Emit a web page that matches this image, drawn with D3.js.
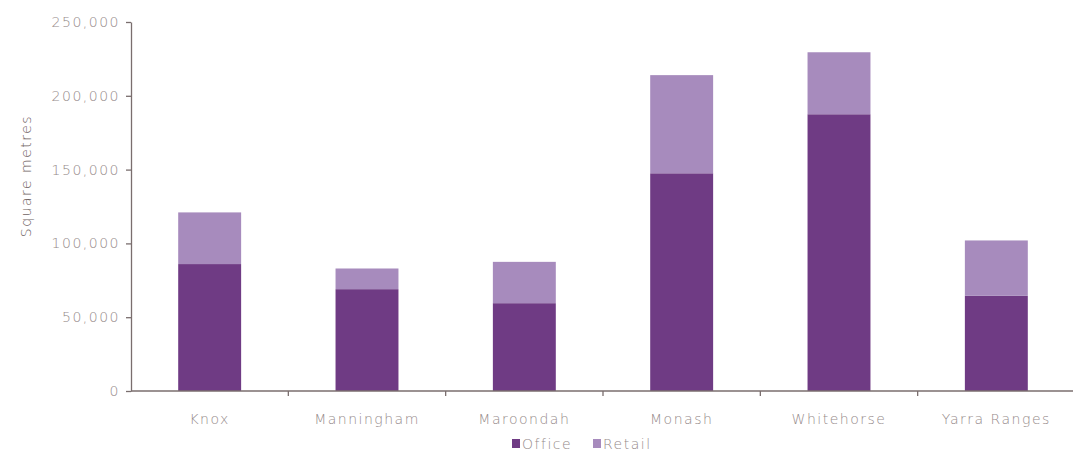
<!DOCTYPE html>
<html>
<head>
<meta charset="utf-8">
<script src="https://cdn.jsdelivr.net/npm/d3@7"></script>
<style>
  html, body { margin: 0; padding: 0; background: #fff; }
  svg { display: block; }
  text { font-family: "DejaVu Sans", sans-serif; font-weight: 200; letter-spacing: 1.5px; }
</style>
</head>
<body>
<svg id="chart" width="1073" height="452"></svg>
<script>
// Floor space by municipality, square metres
const categories = ["Knox", "Manningham", "Maroondah", "Monash", "Whitehorse", "Yarra Ranges"];
const office = [86000, 69000, 59500, 147500, 187500, 64500];
const retail = [35000, 14000, 28000, 66500, 42000, 37500];
const seriesNames = ["Office", "Retail"];
const yTicks = [0, 50000, 100000, 150000, 200000, 250000];

const colors = { Office: "#6f3b84", Retail: "#a78bbd" };

const svg = d3.select("#chart");
const margin = { top: 22, right: 0, bottom: 61, left: 131 };
const width = 1075 - margin.left;
const height = 452 - margin.top - margin.bottom;

const g = svg.append("g").attr("transform", `translate(${margin.left},${margin.top})`);

const x = d3.scaleBand().domain(categories).range([0, width]).paddingInner(0.6).paddingOuter(0.3);
const xTicksScale = d3.scaleBand().domain(categories).range([0, width]);
const y = d3.scaleLinear().domain([0, 250000]).range([height, 0]);

const rows = categories.map((c, i) => ({ category: c, Office: office[i], Retail: retail[i] }));
const stacked = d3.stack().keys(seriesNames)(rows);

g.selectAll("g.series")
  .data(stacked)
  .join("g")
  .attr("class", "series")
  .attr("fill", d => colors[d.key])
  .selectAll("rect")
  .data(d => d)
  .join("rect")
  .attr("x", d => x(d.data.category))
  .attr("width", x.bandwidth())
  .attr("y", d => y(d[1]))
  .attr("height", d => y(d[0]) - y(d[1]));

const axisColor = "#7a6e6e";
const textColor = "#958a8a";
const fontSize = 14;

// Y axis
const yAxis = g.append("g")
  .call(d3.axisLeft(y).tickValues(yTicks).tickFormat(d3.format(",")).tickSize(5).tickSizeOuter(0));
yAxis.select(".domain").attr("stroke", axisColor).attr("stroke-width", 1.3);
yAxis.selectAll(".tick line").attr("stroke", axisColor).attr("stroke-width", 1.3);
yAxis.selectAll(".tick text").attr("fill", textColor).attr("font-size", fontSize).attr("x", -11)
  .attr("font-family", null);

// X axis with boundary ticks between categories
const xAxisG = g.append("g").attr("transform", `translate(0,${height})`);
xAxisG.append("line")
  .attr("x1", 0).attr("x2", width)
  .attr("stroke", axisColor).attr("stroke-width", 1.3);
xAxisG.selectAll("line.boundary")
  .data(categories.slice(1))
  .join("line")
  .attr("class", "boundary")
  .attr("x1", d => xTicksScale(d)).attr("x2", d => xTicksScale(d))
  .attr("y1", 0).attr("y2", 5)
  .attr("stroke", axisColor).attr("stroke-width", 1.3);
xAxisG.selectAll("text")
  .data(categories)
  .join("text")
  .attr("x", d => xTicksScale(d) + xTicksScale.bandwidth() / 2)
  .attr("y", 33)
  .attr("text-anchor", "middle")
  .attr("fill", textColor)
  .attr("font-size", fontSize)
  .text(d => d);

// Y axis title
svg.append("text")
  .attr("transform", "translate(31,176) rotate(-90)")
  .attr("text-anchor", "middle")
  .attr("fill", "#6e6262")
  .attr("font-size", fontSize)
  .text("Square metres");

// Legend
const legend = svg.append("g").attr("transform", "translate(512,449)");
const legendOffsets = [0, 81];
seriesNames.forEach((name, i) => {
  const item = legend.append("g").attr("transform", `translate(${legendOffsets[i]},0)`);
  item.append("rect").attr("x", 0).attr("y", -10).attr("width", 8).attr("height", 9).attr("fill", colors[name]);
  item.append("text").attr("x", 10).attr("y", 0).attr("fill", textColor).attr("font-size", fontSize).text(name);
});
</script>
</body>
</html>
